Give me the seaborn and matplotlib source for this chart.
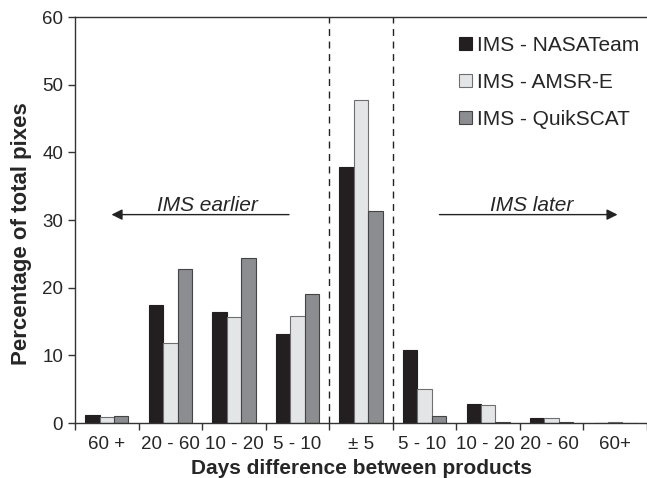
import matplotlib
matplotlib.use("Agg")
import matplotlib.pyplot as plt
import seaborn as sns
import pandas as pd
import numpy as np

categories = ["60 +", "20 - 60", "10 - 20", "5 - 10", "± 5", "5 - 10 ", "10 - 20 ", "20 - 60 ", "60+"]
series = ["IMS - NASATeam", "IMS - AMSR-E", "IMS - QuikSCAT"]
nasateam = [1.2, 17.4, 16.4, 13.1, 37.8, 10.8, 2.8, 0.7, 0.0]
amsre = [0.9, 11.8, 15.6, 15.8, 47.7, 5.0, 2.6, 0.8, 0.15]
quikscat = [1.1, 22.8, 24.4, 19.0, 31.4, 1.0, 0.2, 0.1, 0.0]
colors = ["#231f20", "#e4e5e6", "#8b8d90"]
edge_colors = ["#231f20", "#6f6f6f", "#444444"]

df = pd.DataFrame({
    "cat": categories * 3,
    "series": [series[0]] * 9 + [series[1]] * 9 + [series[2]] * 9,
    "val": nasateam + amsre + quikscat,
})

sns.set_style("ticks")
plt.rcParams["font.family"] = ["Liberation Sans", "DejaVu Sans"]

fig = plt.figure(figsize=(6.47, 4.78), dpi=100)
ax = fig.add_axes([0.116, 0.115, 0.884, 0.8494])

sns.barplot(data=df, x="cat", y="val", hue="series", order=categories,
            hue_order=series, palette=colors, width=0.68, ax=ax,
            linewidth=0.8, saturation=1, legend=True)

for cont, ec in zip(ax.containers, edge_colors):
    for p in cont.patches:
        p.set_edgecolor(ec)

ax.set_xlim(-0.5, 8.5)
ax.set_ylim(0, 60)
ax.set_yticks(np.arange(0, 61, 10))
ax.set_xticks(np.arange(-0.5, 8.6, 1.0))
ax.set_xticklabels([])
ax.set_xticks(np.arange(0, 9), minor=True)
ax.set_xticklabels(categories, minor=True)
ax.tick_params(axis="x", which="minor", length=0, labelsize=13.5, pad=9)
ax.tick_params(axis="x", which="major", length=5, width=1, color="#333333")
ax.tick_params(axis="y", length=5, width=1, labelsize=13.5, color="#333333")

for s in ["left", "bottom", "top"]:
    ax.spines[s].set_visible(True)
    ax.spines[s].set_color("#333333")
    ax.spines[s].set_linewidth(1)
ax.spines["right"].set_visible(False)

ax.axvline(3.5, color="#222222", linestyle=(0, (5, 4)), linewidth=1)
ax.axvline(4.5, color="#222222", linestyle=(0, (5, 4)), linewidth=1)

ax.annotate("", xy=(0.03, 30.8), xytext=(2.91, 30.8),
            arrowprops=dict(arrowstyle="-|>", color="#222222", lw=1,
                            mutation_scale=16))
ax.text(1.58, 31.3, "IMS earlier", ha="center", va="baseline",
        fontsize=15, style="italic")
ax.annotate("", xy=(8.08, 30.8), xytext=(5.19, 30.8),
            arrowprops=dict(arrowstyle="-|>", color="#222222", lw=1,
                            mutation_scale=16))
ax.text(6.69, 31.3, "IMS later", ha="center", va="baseline",
        fontsize=15, style="italic")

ax.set_xlabel("Days difference between products", fontsize=15, fontweight="bold", labelpad=5)
ax.set_ylabel("Percentage of total pixes", fontsize=16, fontweight="bold", labelpad=8)
ax.yaxis.set_label_coords(-0.076, 0.466)

leg = ax.legend(loc="upper right", bbox_to_anchor=(1.008, 0.985), frameon=False,
                fontsize=15, handlelength=0.62, handleheight=0.62,
                handletextpad=0.25, labelspacing=0.87, borderaxespad=0.2)
for h, ec in zip(leg.legend_handles, edge_colors):
    h.set_edgecolor(ec)
    h.set_linewidth(0.8)

fig.savefig("out.png", dpi=100)
